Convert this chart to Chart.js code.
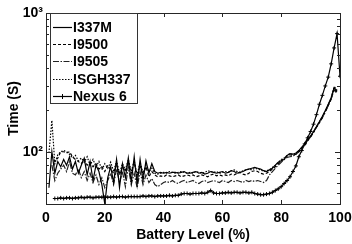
<!DOCTYPE html>
<html>
<head>
<meta charset="utf-8">
<script src="https://cdn.jsdelivr.net/npm/chart.js@4/dist/chart.umd.min.js"></script>
<style>
  html, body { margin: 0; padding: 0; background: #fff; }
</style>
</head>
<body>
<canvas id="chart" width="352" height="244"></canvas>
<script>
'use strict';

const batteryLevel = [
  1, 2, 3, 4, 5, 6, 7, 8, 9, 10, 11, 12, 13, 14, 15, 16, 17, 18, 19, 20,
  21, 22, 23, 24, 25, 26, 27, 28, 29, 30, 31, 32, 33, 34, 35, 36, 37, 38, 39, 40,
  41, 42, 43, 44, 45, 46, 47, 48, 49, 50, 51, 52, 53, 54, 55, 56, 57, 58, 59, 60,
  61, 62, 63, 64, 65, 66, 67, 68, 69, 70, 71, 72, 73, 74, 75, 76, 77, 78, 79, 80,
  81, 82, 83, 84, 85, 86, 87, 88, 89, 90, 91, 92, 93, 94, 95, 96, 97, 98, 99, 100
];

const timeI337M = [
  55, 100, 70, 85, 78, 88, 80, 92, 75, 85, 70, 80, 90, 68, 85, 62, 80, 72, 58, 42,
  65, 78, 60, 88, 55, 82, 65, 90, 60, 92, 58, 88, 62, 86, 70, 82, 72, 70, 71, 70,
  71, 70, 71, 71, 70, 71, 72, 70, 70, 71, 72, 70, 71, 69, 70, 72, 71, 70, 71, 72,
  70, 71, 73, 72, 70, 71, 72, 74, 75, 76, 77, 76, 75, 73, 72, 74, 76, 80, 84, 86,
  88, 94, 97, 96, 98, 102, 108, 114, 122, 130, 140, 152, 165, 180, 198, 220, 245, 290, 275, null
];

const timeI9500 = [
  null, 95, 85, 90, 100, 100, 98, 100, 92, 88, 85, 82, 88, 80, 84, 78, 82, 75, 78, 72,
  80, 74, 70, 82, 68, 78, 72, 85, 70, 84, 66, 80, 68, 78, 66, 72, 68, 66, 67, 66,
  68, 67, 66, 67, 68, 66, 67, 68, 67, 68, 66, 67, 68, 67, 66, 68, 69, 67, 68, 67,
  68, 67, 69, 68, 70, 71, 69, 68, 70, 72, 73, 72, 70, 69, 70, 72, 75, 78, 82, 86,
  90, 93, 95, 94, 96, 100, 106, 112, 120, 128, 138, 150, 162, 176, 194, 215, 240, 285, 270, null
];

const timeI9505 = [
  null, 80, 62, 70, 75, 80, 72, 85, 70, 68, 75, 65, 72, 62, 70, 60, 68, 58, 65, 55,
  62, 70, 58, 75, 60, 72, 56, 78, 58, 70, 55, 72, 58, 68, 60, 64, 58, 56, 58, 60,
  61, 60, 62, 60, 59, 61, 62, 60, 61, 62, 60, 59, 61, 62, 60, 61, 62, 61, 60, 62,
  61, 60, 62, 61, 62, 61, 60, 62, 61, 62, 61, 62, 61, 60, 62, 68, 72, 76, 80, 84,
  88, 91, 92, 93, 96, 100, 105, 112, 120, 128, 138, 150, 162, 176, 194, 215, 240, 280, 262, null
];

const timeISGH337 = [
  98, 168, 82, 95, 100, 102, 100, 96, 90, 94, 86, 90, 84, 92, 80, 88, 78, 85, 74, 82,
  76, 84, 72, 86, 70, 82, 74, 88, 72, 86, 68, 84, 70, 80, 72, 76, 70, 69, 70, 71,
  70, 72, 71, 70, 71, 72, 71, 70, 71, 70, 72, 71, 70, 71, 73, 72, 71, 72, 70, 71,
  72, 71, 73, 74, 72, 71, 73, 74, 75, 74, 76, 75, 74, 72, 73, 74, 77, 80, 84, 88,
  90, 94, 97, 95, 97, 101, 107, 113, 121, 129, 139, 151, 164, 178, 196, 218, 243, 295, 280, null
];

const timeNexus6 = [
  null, null, 46, 46, 46.5, 46, 46.5, 46.5, 46, 46.5, 46.5, 47, 46.5, 47, 47, 46.5, 47, 47, 47, 47,
  47, 47, 47.5, 47, 47.5, 47.5, 47, 47.5, 47.5, 47.5, 47.5, 47.5, 48, 47.5, 48, 48, 47.5, 48, 48, 48,
  48, 48.5, 48, 48.5, 48.5, 49.5, 50, 50, 49.5, 50, 50, 50, 50.5, 50, 51, 52.5, 50.5, 50, 50, 50.5,
  50.5, 51, 50.5, 51, 51, 50.5, 51, 51, 50.5, 51, 50, 49.5, 49, 49, 49.5, 50, 51, 52.5, 54, 56,
  59, 62, 66, 72, 79, 92, 102, 114, 126, 140, 158, 185, 220, 255, 298, 345, 430, 560, 710, 350
];

const seriesNames = ['I337M', 'I9500', 'I9505', 'ISGH337', 'Nexus 6'];
const xTicks = [0, 20, 40, 60, 80, 100];
const yMajorTicks = [100, 1000];
const yMinorTicks = [50, 60, 70, 80, 90, 200, 300, 400, 500, 600, 700, 800, 900];
const yTickLabels = { 100: '10²', 1000: '10³' };

const FONT = { family: "'Liberation Sans', Arial, sans-serif", size: 14, weight: 'bold' };
const AXIS_COLOR = '#262626';

function toPoints(values) {
  return batteryLevel.map((level, i) => ({ x: level, y: values[i] }));
}

const styles = [
  { borderColor: '#000', borderDash: [], pointRadius: 0 },
  { borderColor: '#000', borderDash: [3, 2], pointRadius: 0 },
  { borderColor: '#222', borderDash: [6, 1.5, 1.5, 1.5], pointRadius: 0 },
  { borderColor: '#000', borderDash: [1.5, 1.5], pointRadius: 0 },
  { borderColor: '#000', borderDash: [], pointRadius: 2, pointStyle: 'cross' },
];

const seriesValues = [timeI337M, timeI9500, timeI9505, timeISGH337, timeNexus6];

const datasets = seriesNames.map((name, i) => ({
  label: name,
  data: toPoints(seriesValues[i]),
  borderColor: styles[i].borderColor,
  borderDash: styles[i].borderDash,
  borderWidth: 1.2,
  pointRadius: styles[i].pointRadius,
  pointStyle: styles[i].pointStyle || 'circle',
  pointBorderColor: '#000',
  pointBorderWidth: 1,
  fill: false,
  tension: 0,
  spanGaps: false,
}));

// box, inward ticks and MATLAB-like legend
const framePlugin = {
  id: 'frame',
  afterDatasetsDraw(chart) {
    const { ctx, chartArea: a, scales: { x, y } } = chart;
    ctx.save();
    ctx.strokeStyle = AXIS_COLOR;
    ctx.lineWidth = 1;
    ctx.setLineDash([]);
    ctx.strokeRect(Math.round(a.left) + 0.5, Math.round(a.top) + 0.5,
      Math.round(a.right - a.left), Math.round(a.bottom - a.top));

    ctx.beginPath();
    for (const v of xTicks) {
      const px = Math.round(x.getPixelForValue(v)) + 0.5;
      ctx.moveTo(px, a.bottom); ctx.lineTo(px, a.bottom - 4);
      ctx.moveTo(px, a.top); ctx.lineTo(px, a.top + 4);
    }
    const yTick = (v, len) => {
      const py = Math.round(y.getPixelForValue(v)) + 0.5;
      ctx.moveTo(a.left, py); ctx.lineTo(a.left + len, py);
      ctx.moveTo(a.right, py); ctx.lineTo(a.right - len, py);
    };
    yMajorTicks.forEach((v) => yTick(v, 5));
    yMinorTicks.forEach((v) => yTick(v, 3));
    ctx.stroke();

    // legend
    const box = { left: 50.5, top: 13.5, width: 87, height: 90 };
    ctx.fillStyle = '#fff';
    ctx.fillRect(box.left, box.top, box.width, box.height);
    ctx.strokeStyle = '#333';
    ctx.strokeRect(box.left, box.top, box.width, box.height);
    ctx.font = `${FONT.weight} ${FONT.size}px ${FONT.family}`;
    ctx.textBaseline = 'middle';
    chart.data.datasets.forEach((ds, i) => {
      const cy = Math.round(27 + i * 17.2) + 0.5;
      ctx.strokeStyle = ds.borderColor;
      ctx.lineWidth = 1.2;
      ctx.setLineDash(ds.borderDash || []);
      ctx.beginPath();
      ctx.moveTo(53, cy); ctx.lineTo(72, cy);
      ctx.stroke();
      ctx.setLineDash([]);
      if (ds.pointStyle === 'cross') {
        ctx.strokeStyle = '#000';
        ctx.lineWidth = 1;
        ctx.beginPath();
        ctx.moveTo(62.5, cy - 2.5); ctx.lineTo(62.5, cy + 2.5);
        ctx.stroke();
      }
      ctx.fillStyle = '#000';
      ctx.fillText(ds.label, 73, cy + 0.5);
    });
    ctx.restore();
  },
};

new Chart(document.getElementById('chart'), {
  type: 'line',
  data: { datasets },
  options: {
    responsive: false,
    animation: false,
    devicePixelRatio: 1,
    layout: { padding: { top: 13, right: 12, left: 0, bottom: 0 } },
    plugins: { legend: { display: false }, tooltip: { enabled: false } },
    scales: {
      x: {
        type: 'linear',
        min: 0,
        max: 100,
        grid: { display: false, drawTicks: false },
        border: { display: false },
        afterBuildTicks: (scale) => { scale.ticks = xTicks.map((v) => ({ value: v })); },
        afterFit: (scale) => {
          scale.height = 40;
          scale.paddingLeft = 0;
          scale.paddingRight = 0;
        },
        ticks: { color: '#000', font: FONT, padding: 6, maxRotation: 0 },
        title: { display: true, text: 'Battery Level (%)', color: '#000', font: FONT, padding: { top: 0, bottom: 0 } },
      },
      y: {
        type: 'logarithmic',
        min: 42,
        max: 1000,
        grid: { display: false, drawTicks: false },
        border: { display: false },
        afterBuildTicks: (scale) => { scale.ticks = yMajorTicks.map((v) => ({ value: v })); },
        afterFit: (scale) => {
          scale.width = 46;
          scale.paddingTop = 0;
          scale.paddingBottom = 0;
        },
        ticks: { color: '#000', font: FONT, padding: 3, callback: (v) => yTickLabels[v] || '' },
        title: { display: true, text: 'Time (S)', color: '#000', font: FONT, padding: { top: 6, bottom: 0 } },
      },
    },
  },
  plugins: [framePlugin],
});
</script>
</body>
</html>
